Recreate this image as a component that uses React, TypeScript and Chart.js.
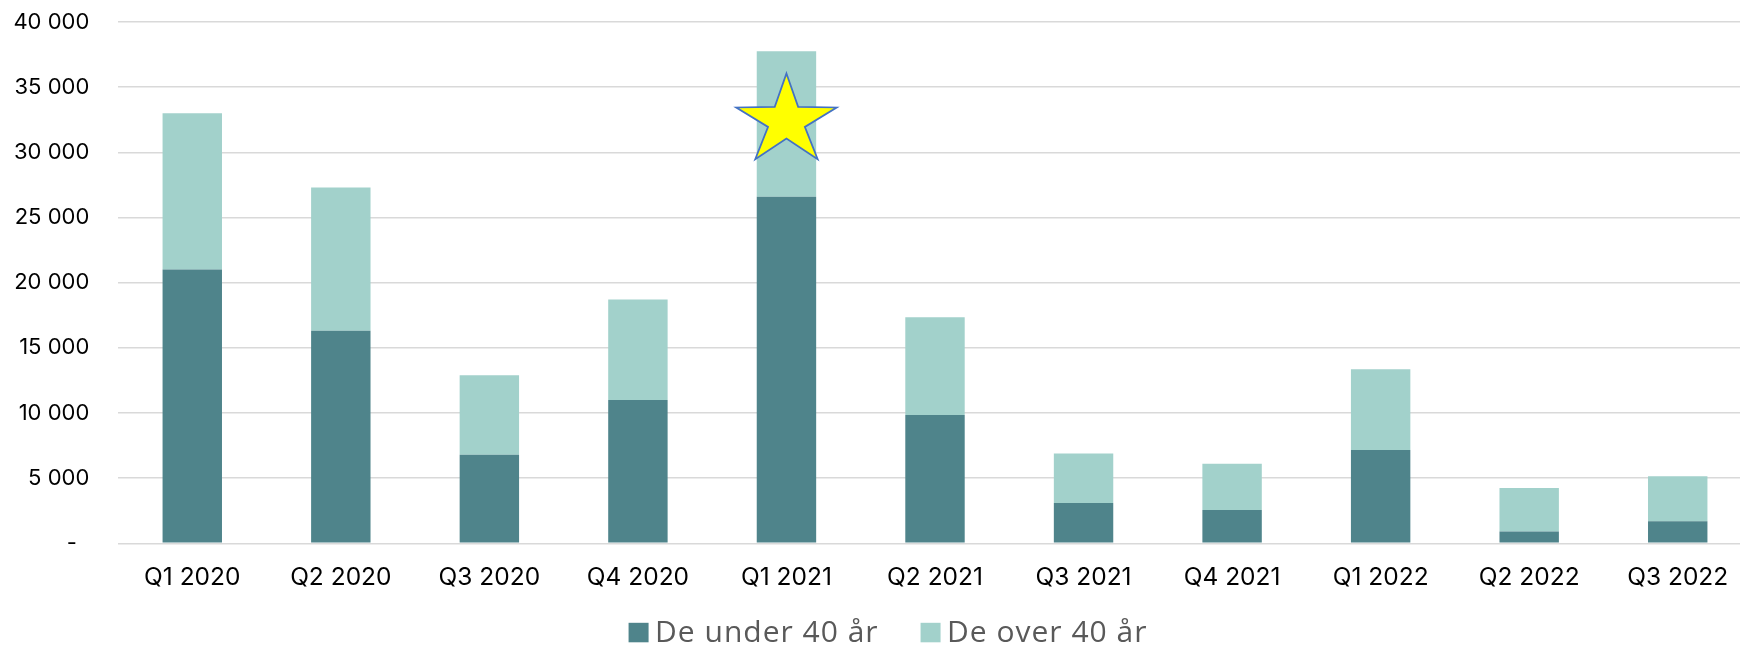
import { useEffect, useRef } from 'react';
import { Chart, registerables } from 'chart.js';

Chart.register(...registerables);

const categories = ['Q1 2020', 'Q2 2020', 'Q3 2020', 'Q4 2020', 'Q1 2021', 'Q2 2021', 'Q3 2021', 'Q4 2021', 'Q1 2022', 'Q2 2022', 'Q3 2022'];
const seriesLabels = ['De under 40 år', 'De over 40 år'];
const under40 = [21000, 16300, 6800, 11000, 26600, 9850, 3100, 2550, 7150, 900, 1700];
const over40 = [12000, 11000, 6100, 7700, 11150, 7500, 3800, 3550, 6200, 3350, 3450];
const yMin = 0;
const yMax = 40000;
const yStep = 5000;
const starCategory = 'Q1 2021';
const starTopValue = 36050;

const COLORS = ['#4F848B', '#A2D1CB'];
const CANVAS_W = 1752;
const CANVAS_H = 645;
const LEGEND_LEFT = 24;
const PAD_TOP = 22;

// star outline offsets from the top point (px)
const STAR_SHAPE: [number, number][] = [
  [0, 0], [11.7, 33.4], [50.2, 34], [18.4, 53.4], [31.2, 85.7],
  [0, 65], [-31.2, 85.7], [-18.4, 53.4], [-50.2, 34], [-11.7, 33.4],
];

function fmt(v: number): string {
  if (v === 0) return '-  ';
  return String(v).replace(/\B(?=(\d{3})+(?!\d))/g, ' ');
}

const starPlugin = {
  id: 'starMark',
  afterDatasetsDraw(chart: any) {
    const xs = chart.scales.x;
    const ys = chart.scales.y;
    const idx = categories.indexOf(starCategory);
    const cx = xs.getPixelForValue(idx);
    const top = ys.getPixelForValue(starTopValue);
    const ctx = chart.ctx;
    ctx.save();
    ctx.beginPath();
    STAR_SHAPE.forEach(([dx, dy], i) => {
      if (i === 0) ctx.moveTo(cx + dx, top + dy);
      else ctx.lineTo(cx + dx, top + dy);
    });
    ctx.closePath();
    ctx.fillStyle = '#FFFF00';
    ctx.fill();
    ctx.lineWidth = 1.75;
    ctx.strokeStyle = '#4472C4';
    ctx.lineJoin = 'miter';
    ctx.stroke();
    ctx.restore();
  },
};

const legendPlugin = {
  id: 'customLegend',
  afterDraw(chart: any) {
    const ctx = chart.ctx;
    ctx.save();
    ctx.font = '30px "Open Sans"';
    try { (ctx as any).letterSpacing = '1px'; } catch (e) {}
    const box = 20;
    const gapText = 6.5;
    const gapItems = 42;
    const items = chart.data.datasets.map((ds: any) => ({
      label: ds.label,
      color: ds.backgroundColor,
      w: ctx.measureText(ds.label).width,
    }));
    const total = items.reduce((s: number, it: any) => s + box + gapText + it.w, 0) + gapItems * (items.length - 1);
    const center = (LEGEND_LEFT + chart.width) / 2;
    let x = center - total / 2;
    const baseline = chart.height - 2.7;
    items.forEach((it: any) => {
      ctx.fillStyle = it.color;
      ctx.fillRect(x, baseline - 19.5, box, 19.5);
      x += box + gapText;
      ctx.fillStyle = '#595959';
      ctx.textBaseline = 'alphabetic';
      ctx.textAlign = 'left';
      ctx.fillText(it.label, x, baseline);
      x += it.w + gapItems;
    });
    ctx.restore();
  },
};

export default function App() {
  const ref = useRef<HTMLCanvasElement | null>(null);
  useEffect(() => {
    if (!ref.current) return;
    const chart = new Chart(ref.current, {
      type: 'bar',
      data: {
        labels: categories,
        datasets: [
          { label: seriesLabels[0], data: under40, backgroundColor: COLORS[0], borderWidth: 0 },
          { label: seriesLabels[1], data: over40, backgroundColor: COLORS[1], borderWidth: 0 },
        ],
      },
      options: {
        responsive: false,
        animation: false,
        devicePixelRatio: 1,
        layout: { padding: { left: 0, top: PAD_TOP, right: 0, bottom: 0 } },
        datasets: { bar: { categoryPercentage: 1, barPercentage: 0.4 } },
        plugins: { legend: { display: false }, tooltip: { enabled: false } },
        scales: {
          x: {
            stacked: true,
            grid: { display: false, drawTicks: false },
            border: { display: false },
            ticks: {
              color: '#000',
              font: { family: 'Inter', size: 24.5 },
              padding: 20,
              autoSkip: false,
              maxRotation: 0,
            },
            afterFit: (s: any) => { s.height = 101.7; s.paddingLeft = 0; s.paddingRight = 0; },
          },
          y: {
            stacked: true,
            min: yMin,
            max: yMax,
            grid: { color: '#d9d9d9', lineWidth: 1.5, drawTicks: false },
            border: { display: false },
            ticks: {
              stepSize: yStep,
              color: '#000',
              font: { family: 'Inter', size: 22 },
              padding: 28.7,
              callback: (v: any) => fmt(Number(v)),
            },
            afterFit: (s: any) => { s.width = 118; s.paddingTop = 0; s.paddingBottom = 0; },
          },
        },
      },
      plugins: [starPlugin, legendPlugin],
    });
    return () => chart.destroy();
  }, []);
  return (
    <div style={{ position: 'fixed', left: 0, top: 0, width: 1740, height: 645, overflow: 'hidden', background: '#fff' }}>
      <canvas ref={ref} width={CANVAS_W} height={CANVAS_H} style={{ display: 'block' }} />
    </div>
  );
}
